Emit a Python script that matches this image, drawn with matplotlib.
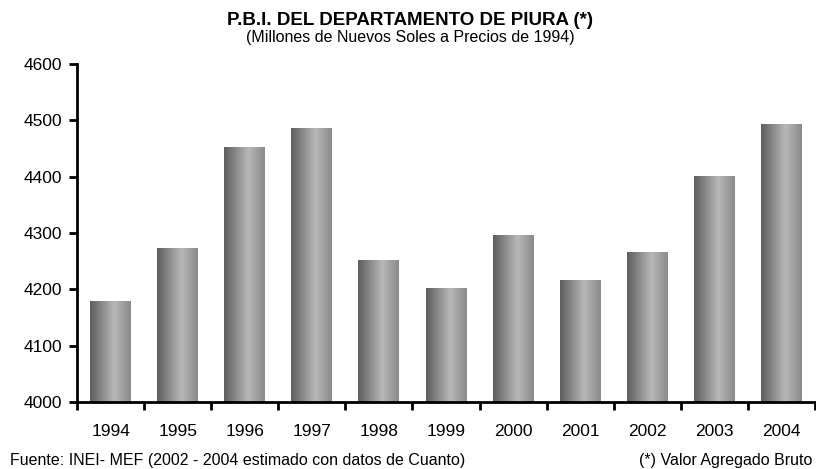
import numpy as np
import matplotlib.pyplot as plt
from matplotlib.colors import LinearSegmentedColormap

plt.rcParams['font.family'] = ['Liberation Sans', 'DejaVu Sans']

years = ['1994', '1995', '1996', '1997', '1998', '1999',
         '2000', '2001', '2002', '2003', '2004']
pbi = [4178, 4272, 4451, 4485, 4252, 4201, 4295, 4215, 4266, 4401, 4493]

# degradado horizontal de las barras
gris = LinearSegmentedColormap.from_list(
    'gris', [(0.0, '#5e5e5e'), (0.6, '#b8b8b8'), (1.0, '#8a8a8a')])
grad = np.linspace(0, 1, 128).reshape(1, -1)

fig = plt.figure(figsize=(8.16, 4.69), dpi=100)
ax = fig.add_axes([0.0944, 0.1429, 0.9044, 0.7206])

x = np.arange(len(years))
ancho = 0.61
for xi, v in zip(x, pbi):
    ax.imshow(grad, cmap=gris, aspect='auto', interpolation='bicubic',
              extent=[xi - ancho / 2, xi + ancho / 2, 4000, v], zorder=2)

ax.set_xlim(-0.5, len(years) - 0.5)
ax.set_ylim(4000, 4600)
ax.set_yticks(range(4000, 4601, 100))
ax.set_yticklabels([str(t) for t in range(4000, 4601, 100)], fontsize=12.5)

ax.set_xticks(x)
ax.set_xticklabels(years, fontsize=12.5)
ax.set_xticks(np.arange(-0.5, len(years), 1), minor=True)
ax.tick_params(axis='x', which='major', length=0, pad=16)
ax.tick_params(axis='x', which='minor', length=6, width=2, direction='out')
ax.tick_params(axis='y', length=6, width=2, direction='out', pad=5)

for s in ['top', 'right']:
    ax.spines[s].set_visible(False)
for s in ['left', 'bottom']:
    ax.spines[s].set_linewidth(2)

fig.text(0.503, 0.957, 'P.B.I. DEL DEPARTAMENTO DE PIURA (*)', ha='center',
         va='center', fontsize=13.5, fontweight='bold')
fig.text(0.503, 0.921, '(Millones de Nuevos Soles a Precios de 1994)',
         ha='center', va='center', fontsize=11.5)
fig.text(0.012, 0.019, 'Fuente: INEI- MEF (2002 - 2004 estimado con datos de Cuanto)',
         ha='left', va='center', fontsize=11.5)
fig.text(0.995, 0.019, '(*) Valor Agregado Bruto', ha='right', va='center',
         fontsize=11.5)

fig.savefig('out.png', dpi=100)
